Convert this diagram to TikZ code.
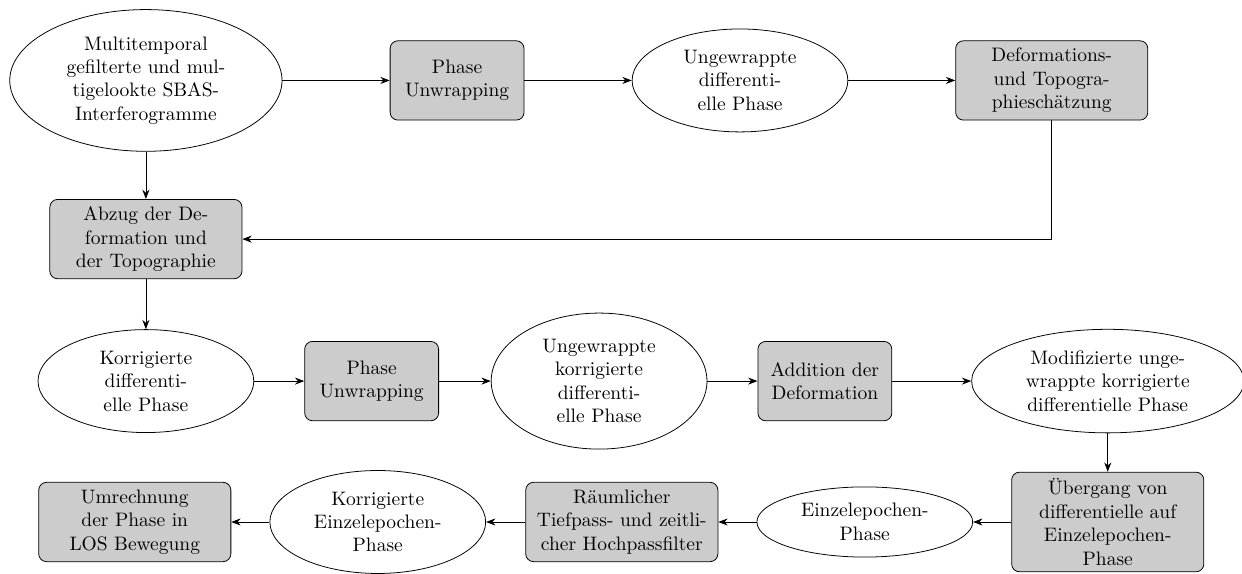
\documentclass[tikz,border=0pt]{standalone}
\usepackage{fontspec}
\usepackage{tikz}
\usetikzlibrary{arrows.meta,shapes.geometric}

\tikzset{
  proc/.style={draw, fill=black!20, rounded corners, align=center, text width=3.23cm, minimum height=1.43cm},
  procsmall/.style={proc, text width=2.18cm},
  data/.style={draw, ellipse, align=center, text width=2.61cm, inner xsep=2pt, inner ysep=3.2pt},
  datawide/.style={data, text width=3.33cm},
  flow/.style={-{Stealth}},
}

\begin{document}
\begin{tikzpicture}
\useasboundingbox (0,0) rectangle (22.39,-10.33);

% first row
\node[datawide] (src) at (2.63,-1.45) {Multitemporal\\gefilterte und mul-\\tigelookte SBAS-\\Interferogramme};
\node[procsmall] (unwrapA) at (8.24,-1.45) {Phase\\Unwrapping};
\node[data] (ungewA) at (13.34,-1.45) {Ungewrappte\\differenti-\\elle Phase};
\node[proc] (defo) at (18.96,-1.45) {Deformations-\\und Topogra-\\phieschätzung};

% second row
\node[proc] (abzug) at (2.63,-4.31) {Abzug der De-\\formation und\\der Topographie};

% third row
\node[data] (korr) at (2.63,-6.87) {Korrigierte\\differenti-\\elle Phase};
\node[procsmall] (unwrapB) at (6.70,-6.87) {Phase\\Unwrapping};
\node[data] (ungewB) at (10.80,-6.87) {Ungewrappte\\korrigierte\\differenti-\\elle Phase};
\node[procsmall] (addi) at (14.87,-6.87) {Addition der\\Deformation};
\node[datawide] (modi) at (19.97,-6.87) {Modifizierte unge-\\wrappte korrigierte\\differentielle Phase};

% fourth row
\node[proc] (uebergang) at (19.97,-9.41) {Übergang von\\differentielle auf\\Einzelepochen-\\Phase};
\node[data] (einzel) at (15.59,-9.41) {Einzelepochen-\\Phase};
\node[proc] (filter) at (11.21,-9.41) {Räumlicher\\Tiefpass- und zeitli-\\cher Hochpassfilter};
\node[data] (korrEinzel) at (6.81,-9.41) {Korrigierte\\Einzelepochen-\\Phase};
\node[proc] (los) at (2.43,-9.41) {Umrechnung\\der Phase in\\LOS Bewegung};

\draw[flow] (src) -- (unwrapA);
\draw[flow] (unwrapA) -- (ungewA);
\draw[flow] (ungewA) -- (defo);
\draw[flow] (src) -- (abzug);
\draw[flow] (defo.south) |- (abzug.east);
\draw[flow] (abzug) -- (korr);
\draw[flow] (korr) -- (unwrapB);
\draw[flow] (unwrapB) -- (ungewB);
\draw[flow] (ungewB) -- (addi);
\draw[flow] (addi) -- (modi);
\draw[flow] (modi) -- (uebergang);
\draw[flow] (uebergang) -- (einzel);
\draw[flow] (einzel) -- (filter);
\draw[flow] (filter) -- (korrEinzel);
\draw[flow] (korrEinzel) -- (los);
\end{tikzpicture}
\end{document}
